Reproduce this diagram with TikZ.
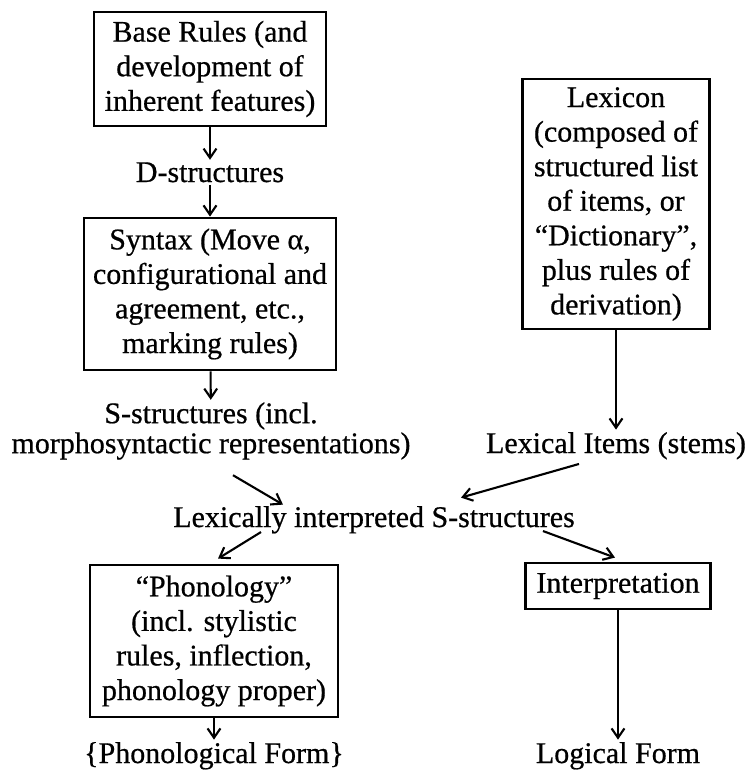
\documentclass[tikz,border=0pt]{standalone}
\usepackage{fontspec}
\setmainfont{Liberation Serif}[FakeBold=0.6]
\usetikzlibrary{arrows.meta}

\begin{document}
\begin{tikzpicture}[x=0.03cm,y=-0.03cm,
    font=\fontsize{25.6}{29.5}\selectfont,
    gbox/.style={draw,line width=2.4pt,align=center,inner sep=0pt},
    gtext/.style={align=center,inner sep=2pt},
    garr/.style={line width=1.8pt,-{Straight Barb[length=8pt,width=11pt]}}]
  \useasboundingbox (0,0) rectangle (747,774);
  \node[gbox,minimum width=6.96cm,minimum height=3.42cm] (base) at (210,69)
    {Base Rules (and\\development of\\inherent features)};
  \node[gtext,anchor=base] (dstr) at (210,182) {D-structures};
  \node[gbox,minimum width=7.56cm,minimum height=4.56cm] (syntax) at (210,294)
    {Syntax (Move α,\\configurational and\\agreement, etc.,\\marking rules)};
  \node[gtext,font=\fontsize{25.6}{25.6}\selectfont] (sstr) at (211,431)
    {S-structures (incl.\\morphosyntactic representations)};
  \node[gbox,minimum width=5.61cm,minimum height=7.5cm] (lexicon) at (616,204)
    {Lexicon\\(composed of\\structured list\\of items, or\\“Dictionary”,\\plus rules of\\derivation)};
  \node[gtext,anchor=base] (lexitems) at (616,453) {Lexical Items (stems)};
  \node[gtext,anchor=base] (lexint) at (374,527) {Lexically interpreted S-structures};
  \node[gbox,minimum width=7.44cm,minimum height=4.56cm] (phon) at (214,641)
    {“Phonology”\\(incl. stylistic\\rules, inflection,\\phonology proper)};
  \node[gbox,minimum width=5.55cm,minimum height=1.38cm] (interp) at (618,586)
    {Interpretation};
  \node[gtext,anchor=base] (pform) at (214,763) {\{Phonological Form\}};
  \node[gtext,anchor=base] (lform) at (618,763) {Logical Form};

  \draw[garr] (base) -- (dstr);
  \draw[garr] (dstr) -- (syntax);
  \draw[garr] (syntax) -- (sstr);
  \draw[garr] (lexicon) -- (lexitems);
  \draw[garr] ([shift={(22,13)}]sstr.south) -- ([shift={(-91,1)}]lexint.north);
  \draw[garr] ([shift={(-37,2)}]lexitems.south) -- ([shift={(87,-6)}]lexint.north);
  \draw[garr] ([shift={(-113,-4)}]lexint.south) -- ([shift={(4,-5)}]phon.north);
  \draw[garr] ([shift={(169,-5)}]lexint.south) -- ([shift={(-3,-4)}]interp.north);
  \draw[garr] (phon) -- (pform);
  \draw[garr] (interp) -- (lform);
\end{tikzpicture}
\end{document}
